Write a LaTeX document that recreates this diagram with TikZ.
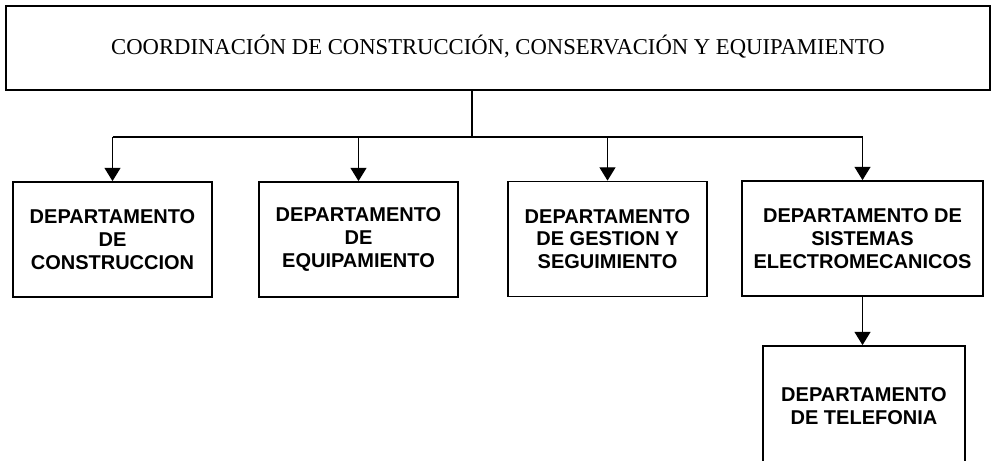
\documentclass[tikz,border=0pt]{standalone}
\usepackage{fontspec}
\setmainfont{Liberation Serif}
\newfontfamily\cajafont{Liberation Sans}
\usetikzlibrary{arrows.meta}
\usetikzlibrary{positioning}

\tikzset{
  jefe/.style={draw, line width=1.3pt, minimum width=738pt, minimum height=63pt,
    font=\fontsize{17}{20}\selectfont},
  depto/.style={draw, line width=1.3pt, minimum width=149.25pt, minimum height=86.25pt,
    align=center, inner sep=2pt, font=\cajafont\bfseries\fontsize{15}{17}\selectfont},
  flecha/.style={line width=1pt, -{Triangle[length=10pt,width=12pt]}}
}

\begin{document}
\begin{tikzpicture}[x=0.75pt,y=-0.75pt]
\useasboundingbox (0,0) rectangle (991,460);
\clip (0,0) rectangle (991,460);

\node[jefe] (coord) at (498,48) {\raisebox{5pt}{COORDINACIÓN DE CONSTRUCCIÓN, CONSERVACIÓN Y EQUIPAMIENTO}};

\node[depto] (constr) at (112.5,239.5) {DEPARTAMENTO\\DE\\CONSTRUCCION};
\node[depto] (equip) at (358.5,239.5) {DEPARTAMENTO\\DE\\EQUIPAMIENTO};
\node[depto] (gestion) at (607.5,239) {DEPARTAMENTO\\DE GESTION Y\\SEGUIMIENTO};
\node[depto, minimum width=180.75pt] (sistemas) at (862.5,238.5) {DEPARTAMENTO DE\\SISTEMAS\\ELECTROMECANICOS};
\node[depto, minimum width=151.5pt, minimum height=90pt] (telefonia) at (864,406) {DEPARTAMENTO\\DE TELEFONIA};

\coordinate (split) at (472,137);

\draw[line width=1pt] (coord.south -| split) -- (split);
\draw[line width=1pt] (constr.north |- split) -- (sistemas.north |- split);
\foreach \d in {constr,equip,gestion,sistemas}
  \draw[flecha] (\d.north |- split) -- (\d.north);
\draw[flecha] (sistemas.south) -- (sistemas.south |- telefonia.north);

\end{tikzpicture}
\end{document}
